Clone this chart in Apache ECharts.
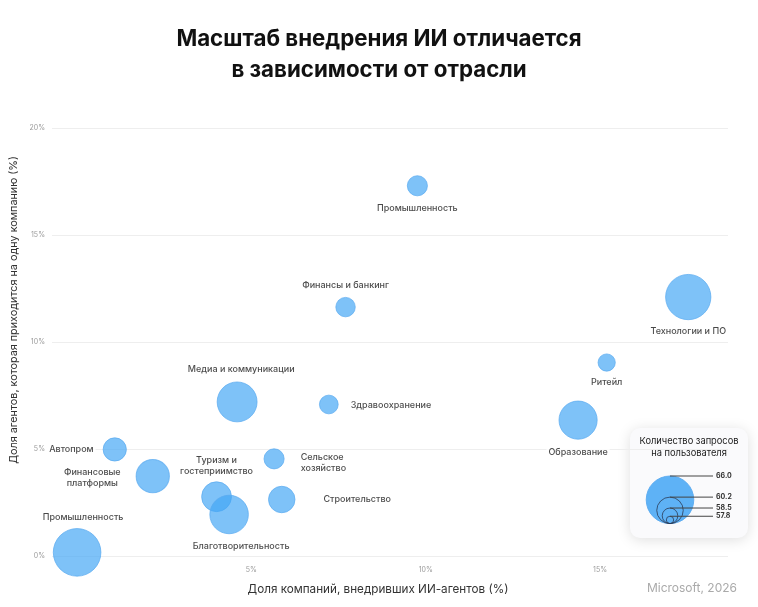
<!DOCTYPE html>
<html>
<head>
    <meta charset="utf-8">
    <title>Масштаб внедрения ИИ</title>
    <script src="https://cdn.jsdelivr.net/npm/echarts@6.0.0/dist/echarts.min.js"></script>
    <style>
        html, body { margin: 0; padding: 0; background: #ffffff; }
        #chart1 { width: 758px; height: 607px; }
    </style>
</head>
<body>
<div id="chart1"></div>
<script type="text/javascript">
    // отрасли
    var industries = [
        'Промышленность', 'Финансы и банкинг', 'Технологии и ПО', 'Ритейл',
        'Медиа и коммуникации', 'Здравоохранение', 'Образование', 'Автопром',
        'Сельское\nхозяйство', 'Финансовые\nплатформы', 'Туризм и\nгостеприимство',
        'Строительство', 'Благотворительность', 'Промышленность'
    ];
    // доля компаний, внедривших ИИ-агентов (%)
    var adoption = [9.76, 7.70, 17.53, 15.19, 4.59, 7.22, 14.37, 1.08, 5.65, 2.17, 4.00, 5.87, 4.36, 0.0];
    // доля агентов на одну компанию (%)
    var agentsShare = [17.30, 11.63, 12.10, 9.04, 7.20, 7.08, 6.35, 4.98, 4.54, 3.73, 2.77, 2.64, 1.94, 0.17];
    // количество запросов на пользователя
    var queries = [59.1, 59.0, 65.2, 58.7, 63.5, 58.9, 63.0, 59.6, 59.1, 61.7, 60.9, 60.2, 63.1, 66.0];
    // значения в легенде размера
    var legendValues = [66.0, 60.2, 58.5, 57.8];
    var xTicks = [5, 10, 15];

    var BLUE = 'rgba(66,165,245,0.85)';
    var FONT = 'Inter';

    // радиус пузырька по числу запросов (площадь ~ значение)
    function radius(q) {
        return Math.sqrt(67.4 * Math.max(q - 57.6, 0.05));
    }

    // где рисовать подписи: позиция, отступ, сдвиг, выравнивание
    var labelCfg = [
        ['bottom', 5, [0, 0]],
        ['top', 5, [0, 0]],
        ['bottom', 5, [0, 0]],
        ['bottom', 4, [0, 0]],
        ['top', 6, [4, 0]],
        ['right', 10, [0, 1]],
        ['bottom', 6, [0, 0]],
        ['left', 7, [0, 0]],
        ['right', 14, [0, 4]],
        ['left', 13, [0, 2], 'center'],
        ['top', 4, [0, 0]],
        ['right', 26, [0, 0]],
        ['bottom', 6, [12, 0]],
        ['top', 4, [6, 0]]
    ];

    var points = [];
    for (var i = 0; i < industries.length; i++) {
        var pos = labelCfg[i][0];
        var lbl = { position: pos, distance: labelCfg[i][1] };
        if (pos === 'top' || pos === 'bottom') lbl.align = 'center';
        if (labelCfg[i][3]) lbl.align = labelCfg[i][3];
        points.push({
            name: industries[i],
            value: [adoption[i], agentsShare[i], queries[i]],
            label: lbl
        });
    }

    // легенда размера пузырьков
    var lgX = 670, lgBottom = 523.6;
    var legendItems = [
        {
            type: 'rect',
            shape: { x: 630, y: 428, width: 118, height: 110, r: 10 },
            style: { fill: '#fafafc', shadowBlur: 14, shadowColor: 'rgba(0,0,0,0.13)', shadowOffsetY: 2 }
        },
        {
            type: 'text',
            x: 689, y: 447,
            style: {
                text: 'Количество запросов\nна пользователя', align: 'center', verticalAlign: 'middle',
                font: '9.3px ' + FONT, fill: '#1a1a1a', lineHeight: 12
            }
        }
    ];
    legendValues.forEach(function (v, k) {
        var r = radius(v);
        legendItems.push({
            type: 'circle',
            shape: { cx: lgX, cy: lgBottom - r, r: r },
            style: k === 0 ? { fill: BLUE, stroke: 'rgba(90,170,240,0.9)', lineWidth: 1 }
                           : { fill: 'none', stroke: '#2b3a55', lineWidth: 0.8 }
        });
        legendItems.push({
            type: 'line',
            shape: { x1: lgX, y1: lgBottom - 2 * r, x2: 713, y2: lgBottom - 2 * r },
            style: { stroke: '#444', lineWidth: 1 }
        });
        legendItems.push({
            type: 'text',
            x: 716, y: lgBottom - 2 * r,
            style: {
                text: v.toFixed(1), align: 'left', verticalAlign: 'middle',
                font: 'bold 7px ' + FONT, fill: '#333'
            }
        });
    });

    var myChart = echarts.init(document.getElementById('chart1'));
    myChart.setOption({
        backgroundColor: '#ffffff',
        animation: false,
        title: {
            text: 'Масштаб внедрения ИИ отличается\nв зависимости от отрасли',
            left: 'center',
            top: 19,
            textStyle: { fontFamily: FONT, fontSize: 22.3, fontWeight: 'bold', color: '#111', lineHeight: 31 }
        },
        grid: { left: 52, right: 30, top: 128, bottom: 51 },
        xAxis: {
            type: 'value',
            min: -0.72,
            max: 18.67,
            axisLine: { show: false },
            axisTick: { show: false },
            splitLine: { show: false },
            axisLabel: {
                customValues: xTicks,
                formatter: '{value}%',
                margin: 10,
                fontFamily: FONT, fontSize: 7, color: '#9a9a9a'
            }
        },
        yAxis: {
            type: 'value',
            min: 0,
            max: 20,
            interval: 5,
            axisLine: { show: false },
            axisTick: { show: false },
            splitLine: { lineStyle: { color: '#eeeeee', width: 1 } },
            axisLabel: {
                formatter: '{value}%',
                margin: 7,
                fontFamily: FONT, fontSize: 7, color: '#9a9a9a'
            }
        },
        series: [{
            type: 'scatter',
            data: points,
            symbolSize: function (val) { return 2 * radius(val[2]); },
            itemStyle: { color: BLUE, borderColor: 'rgba(90,170,240,0.9)', borderWidth: 1 },
            label: {
                show: true,
                formatter: '{b}',
                fontFamily: FONT, fontSize: 9, fontWeight: 500, color: '#1a1a1a', lineHeight: 11,
                backgroundColor: '#ffffff',
                padding: [1, 2]
            },
            // сдвиг подписей
            labelLayout: function (params) {
                var c = labelCfg[params.dataIndex];
                var dx = c[2][0], dy = c[2][1];
                if (c[3] === 'center') dx -= params.labelRect.width / 2;
                return { dx: dx, dy: dy, hideOverlap: false };
            }
        }],
        graphic: [
            {
                type: 'text', x: 14, y: 310, rotation: Math.PI / 2,
                style: {
                    text: 'Доля агентов, которая приходится на одну компанию (%)',
                    align: 'center', verticalAlign: 'middle', font: '10.8px ' + FONT, fill: '#333'
                }
            },
            {
                type: 'text', x: 378, y: 589,
                style: {
                    text: 'Доля компаний, внедривших ИИ-агентов (%)',
                    align: 'center', verticalAlign: 'middle', font: '11.7px ' + FONT, fill: '#333'
                }
            },
            {
                type: 'text', x: 737, y: 588,
                style: {
                    text: 'Microsoft, 2026', align: 'right', verticalAlign: 'middle',
                    font: '12px ' + FONT, fill: '#aaaaaa'
                }
            }
        ].concat(legendItems)
    });
</script>
</body>
</html>
